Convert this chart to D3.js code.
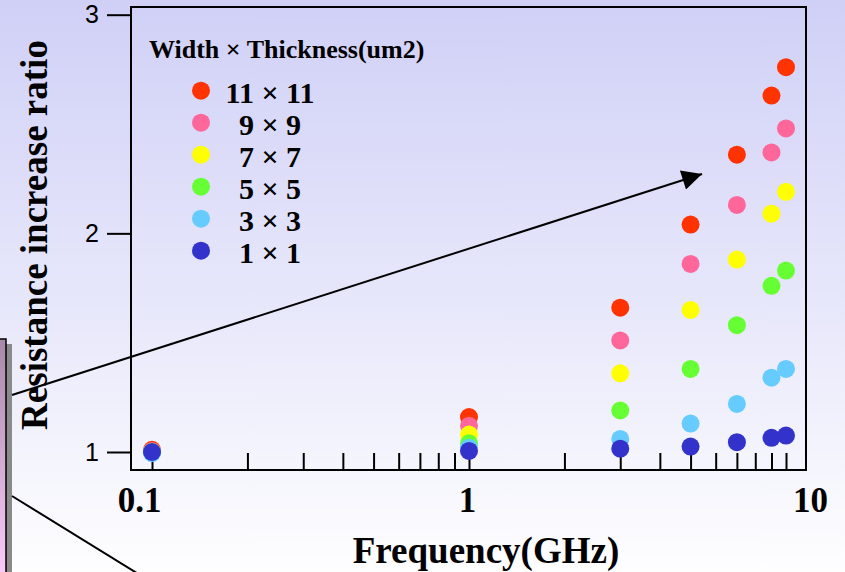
<!DOCTYPE html>
<html>
<head>
<meta charset="utf-8">
<script src="https://cdn.jsdelivr.net/npm/d3@7"></script>
<style>
  html, body { margin: 0; padding: 0; background: #fff; }
  svg { display: block; }
  .serif { font-family: "Liberation Serif", "Times New Roman", serif; font-weight: bold; }
</style>
</head>
<body>
<div id="chart"></div>
<script>
// frequencies (GHz)
const freqs = [0.1, 1, 3, 5, 7, 9, 10];

// width x thickness labels and colours
const sizeLabels = ["11 × 11", "9 × 9", "7 × 7", "5 × 5", "3 × 3", "1 × 1"];
const sizeColors = ["#ff3300", "#ff6699", "#ffff00", "#66ff33", "#66ccff", "#3333cc"];

// resistance increase ratio per size
const ratio11 = [1.01, 1.16, 1.66, 2.04, 2.36, 2.63, 2.76];
const ratio9  = [1.005, 1.12, 1.51, 1.86, 2.13, 2.37, 2.48];
const ratio7  = [1.0, 1.08, 1.36, 1.65, 1.88, 2.09, 2.19];
const ratio5  = [1.0, 1.04, 1.19, 1.38, 1.58, 1.76, 1.83];
const ratio3  = [0.995, 1.02, 1.06, 1.13, 1.22, 1.34, 1.38];
const ratio1  = [1.0, 1.005, 1.015, 1.025, 1.045, 1.065, 1.075];

const yTickValues = [1, 2, 3];
const xLabelValues = [0.1, 1, 10];

const width = 845, height = 572;
const frame = { left: 131, top: 7, right: 806, bottom: 470 };

const series = [ratio11, ratio9, ratio7, ratio5, ratio3, ratio1].map((vals, i) => ({
  label: sizeLabels[i],
  color: sizeColors[i],
  points: vals.map((v, j) => ({ f: freqs[j], v: v }))
}));

const xScale = d3.scaleLog().domain([0.1, 10]).range([152, 786]);
const yScale = d3.scaleLinear().domain([1, 3]).range([452, 14.7]);

const svg = d3.select("#chart")
  .append("svg")
    .attr("width", width)
    .attr("height", height);

const defs = svg.append("defs");
const bg = defs.append("linearGradient")
    .attr("id", "bg")
    .attr("x1", 0).attr("y1", 0).attr("x2", 0).attr("y2", 1);
bg.append("stop").attr("offset", 0).attr("stop-color", "#d0d0f7");
bg.append("stop").attr("offset", 0.55).attr("stop-color", "#e8e8fb");
bg.append("stop").attr("offset", 1).attr("stop-color", "#fefeff");

const pink = defs.append("linearGradient")
    .attr("id", "pinkbox")
    .attr("x1", 0).attr("y1", 0).attr("x2", 0).attr("y2", 1);
pink.append("stop").attr("offset", 0).attr("stop-color", "#a888a8");
pink.append("stop").attr("offset", 1).attr("stop-color", "#fcccfc");

defs.append("marker")
    .attr("id", "arrowhead")
    .attr("viewBox", "0 0 10 10")
    .attr("refX", 10)
    .attr("refY", 5)
    .attr("markerUnits", "userSpaceOnUse")
    .attr("markerWidth", 24)
    .attr("markerHeight", 20)
    .attr("orient", "auto")
  .append("path")
    .attr("d", "M0,0 L10,5 L0,10 z")
    .attr("fill", "#000");

svg.append("rect")
    .attr("width", width)
    .attr("height", height)
    .attr("fill", "url(#bg)");

// slide decoration at the left edge
svg.append("rect")
    .attr("x", 6).attr("y", 344)
    .attr("width", 6).attr("height", 240)
    .attr("fill", "#8a8a8a");
svg.append("rect")
    .attr("x", -4).attr("y", 339)
    .attr("width", 10).attr("height", 240)
    .attr("fill", "url(#pinkbox)")
    .attr("stroke", "#000")
    .attr("stroke-width", 1.5);

// plot frame
svg.append("rect")
    .attr("x", frame.left)
    .attr("y", frame.top)
    .attr("width", frame.right - frame.left)
    .attr("height", frame.bottom - frame.top)
    .attr("fill", "none")
    .attr("stroke", "#000")
    .attr("stroke-width", 2);

// y axis
const leftAxis = d3.axisLeft(yScale)
  .tickValues(yTickValues)
  .tickSize(24)
  .tickPadding(8)
  .tickFormat(d3.format("d"));
const yAxisG = svg.append("g")
    .attr("class", "axis axis-y")
    .attr("transform", `translate(${frame.left}, 0)`)
    .call(leftAxis);
yAxisG.select(".domain").remove();
yAxisG.selectAll("line").attr("stroke", "#000").attr("stroke-width", 2);
yAxisG.selectAll("text")
    .attr("fill", "#000")
    .style("font-family", "'Liberation Sans', Arial, sans-serif")
    .style("font-size", "25px");

// x minor ticks (inward)
const bottomTicks = d3.axisBottom(xScale)
  .tickValues(xScale.ticks())
  .tickSize(-17)
  .tickFormat("");
const xTickG = svg.append("g")
    .attr("class", "axis axis-x-ticks")
    .attr("transform", `translate(0, ${frame.bottom})`)
    .call(bottomTicks);
xTickG.select(".domain").remove();
xTickG.selectAll("line").attr("stroke", "#000").attr("stroke-width", 2);

// x labels
const bottomLabels = d3.axisBottom(xScale)
  .tickValues(xLabelValues)
  .tickSize(0)
  .tickFormat(d => d);
const xLabelG = svg.append("g")
    .attr("class", "axis axis-x serif")
    .attr("transform", `translate(0, ${frame.bottom})`)
    .call(bottomLabels);
xLabelG.select(".domain").remove();
xLabelG.selectAll("text")
    .attr("fill", "#000")
    .attr("y", 42)
    .attr("dy", 0)
    .attr("dx", d => d === 0.1 ? -13 : d === 10 ? 24 : -2)
    .style("font-size", "35px");

// points
svg.append("g")
    .attr("class", "points")
  .selectAll("g")
  .data(series)
  .join("g")
    .attr("fill", d => d.color)
  .selectAll("circle")
  .data(d => d.points)
  .join("circle")
    .attr("cx", d => xScale(d.f))
    .attr("cy", d => yScale(d.v))
    .attr("r", 9);

// annotation arrow
svg.append("line")
    .attr("x1", 12).attr("y1", 395)
    .attr("x2", 702).attr("y2", 174)
    .attr("stroke", "#000")
    .attr("stroke-width", 2)
    .attr("marker-end", "url(#arrowhead)");
svg.append("line")
    .attr("x1", 12).attr("y1", 496)
    .attr("x2", 140).attr("y2", 575)
    .attr("stroke", "#000")
    .attr("stroke-width", 2);

// legend
const legend = svg.append("g").attr("class", "legend serif");
legend.append("text")
    .attr("x", 149)
    .attr("y", 58)
    .style("font-size", "26px")
    .text("Width × Thickness(um2)");
const items = legend.selectAll("g.item")
  .data(series)
  .join("g")
    .attr("class", "item")
    .attr("transform", (d, i) => `translate(0, ${90.7 + i * 32})`);
items.append("circle")
    .attr("cx", 201)
    .attr("cy", 0)
    .attr("r", 9)
    .attr("fill", d => d.color);
items.append("text")
    .attr("x", 270)
    .attr("y", 12.5)
    .attr("text-anchor", "middle")
    .style("font-size", "30px")
    .text(d => d.label);

// axis titles
svg.append("text")
    .attr("class", "serif")
    .attr("x", 486)
    .attr("y", 563)
    .attr("text-anchor", "middle")
    .style("font-size", "37px")
    .text("Frequency(GHz)");
svg.append("text")
    .attr("class", "serif")
    .attr("transform", "translate(47, 235) rotate(-90)")
    .attr("text-anchor", "middle")
    .style("font-size", "37px")
    .text("Resistance increase ratio");
</script>
</body>
</html>
